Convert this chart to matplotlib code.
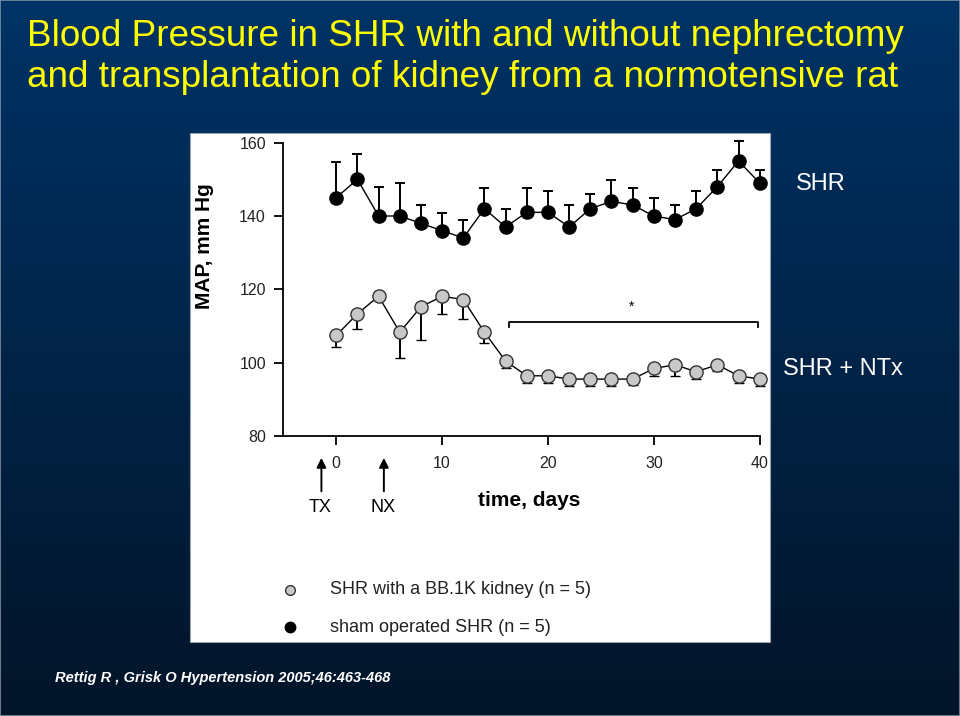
import matplotlib
matplotlib.use("Agg")
import matplotlib.pyplot as plt
import numpy as np
from matplotlib.patches import Rectangle

plt.rcParams["font.family"] = ["Liberation Sans", "DejaVu Sans"]

# days after transplantation
days = [0, 2, 4, 6, 8, 10, 12, 14, 16, 18, 20, 22, 24, 26, 28, 30, 32, 34, 36, 38, 40]

# sham operated SHR (black), mean MAP and upper SEM
sham_map = [145, 150, 140, 140, 138, 136, 134, 142, 137, 141, 141,
            137, 142, 144, 143, 140, 139, 142, 148, 155, 149]
sham_sem = [9.8, 6.8, 7.8, 8.9, 4.9, 4.8, 5.0, 5.7, 4.8, 6.7, 5.7,
            5.9, 4.0, 5.9, 4.7, 5.0, 3.9, 4.7, 4.6, 5.6, 3.6]

# SHR with a BB.1K kidney (grey), mean MAP and lower SEM
ntx_map = [107.4, 113.3, 118.1, 108.3, 115.2, 118.1, 117.2, 108.3, 100.4, 96.4, 96.4,
           95.5, 95.5, 95.5, 95.5, 98.4, 99.4, 97.5, 99.4, 96.4, 95.5]
ntx_sem = [3.1, 4.1, 0.5, 7.0, 9.0, 4.9, 5.2, 2.9, 1.9, 2.0, 2.0,
           2.0, 2.0, 2.0, 1.5, 2.0, 3.0, 2.0, 1.8, 2.0, 2.0]

xticks = [0, 10, 20, 30, 40]
yticks = [80, 100, 120, 140, 160]
sig_span = [16.3, 39.8]
events = [("TX", -1.4), ("NX", 4.5)]

W, H = 960, 716
fig = plt.figure(figsize=(W / 100, H / 100), dpi=100)


def fx(px):
    return px / W


def fy(py):
    return 1 - py / H


# slide background: navy gradient
bg = fig.add_axes([0, 0, 1, 1], zorder=-10)
top = np.array([0.0, 0.20, 0.40])
bot = np.array([0.01, 0.08, 0.16])
t = np.linspace(0, 1, 256)[:, None]
grad = (top[None, :] * (1 - t) + bot[None, :] * t)[:, None, :]
bg.imshow(grad, aspect="auto", extent=[0, 1, 0, 1])
bg.set_axis_off()
bg.add_patch(Rectangle((0, 0), 1, 1, transform=bg.transAxes, fill=False,
                       edgecolor="#7f8fa0", lw=1.2))

# white figure panel
fig.patches.append(Rectangle((fx(190), fy(642)), fx(770) - fx(190), fy(133) - fy(642),
                             transform=fig.transFigure, facecolor="white",
                             edgecolor="#9aa4b0", lw=0.8, zorder=-5))

# title
fig.text(fx(27), fy(46), "Blood Pressure in SHR with and without nephrectomy",
         color="#ffff00", fontsize=26.6, va="baseline", ha="left")
fig.text(fx(27), fy(87), "and transplantation of kidney from a normotensive rat",
         color="#ffff00", fontsize=26.6, va="baseline", ha="left")

ax = fig.add_axes([fx(283.3), fy(435.9), fx(759.7) - fx(283.3), fy(142.7) - fy(435.9)])
ax.patch.set_alpha(0)
ax.set_xlim(-5, 40)
ax.set_ylim(80, 160)
for s in ("top", "right"):
    ax.spines[s].set_visible(False)
for s in ("left", "bottom"):
    ax.spines[s].set_linewidth(1.3)

ax.errorbar(days, sham_map, yerr=[np.zeros(len(sham_sem)), sham_sem], fmt="-o",
            color="black", ms=9.5, lw=1.0, elinewidth=1.4, capsize=3.5, capthick=1.4,
            clip_on=False, zorder=3)
ax.errorbar(days, ntx_map, yerr=[ntx_sem, np.zeros(len(ntx_sem))], fmt="-o",
            color="black", mfc="#c8c8c8", mec="#333333", mew=1.0, ms=9.5, lw=1.0,
            elinewidth=1.4, capsize=3.5, capthick=1.4, clip_on=False, zorder=3)

# significance bracket
ax.plot([sig_span[0], sig_span[0], sig_span[1], sig_span[1]],
        [109.8, 111.2, 111.2, 109.8], color="black", lw=1.3)
ax.text(np.mean(sig_span) - 0.2, 115.2, "*", ha="center", va="center", fontsize=10)

ax.set_xticks(xticks)
ax.set_yticks(yticks)
ax.tick_params(axis="both", direction="out", length=6.5, width=1.3,
               labelsize=11.5, colors="black", labelcolor="#222222")
ax.tick_params(axis="x", pad=8)
ax.tick_params(axis="y", pad=6)

fig.text(fx(205), fy(246), "MAP, mm Hg", fontsize=15, fontweight="bold",
         rotation=90, ha="center", va="center")
fig.text(fx(529), fy(501), "time, days", fontsize=15, fontweight="bold",
         ha="center", va="center")

# surgery markers
for lab, d in events:
    ax.annotate("", xy=(d, 74.0), xytext=(d, 64.9),
                arrowprops=dict(arrowstyle="-|>", color="black", lw=1.4,
                                mutation_scale=14, shrinkA=0, shrinkB=0),
                annotation_clip=False)
    ax.text(d - 0.1, 60.5, lab, ha="center", va="center", fontsize=13,
            clip_on=False)

# legend
fig.lines.append(plt.Line2D([fx(290)], [fy(590)], marker="o", ms=7, mfc="#c8c8c8",
                            mec="#333333", mew=1.0, ls="none", transform=fig.transFigure))
fig.lines.append(plt.Line2D([fx(290)], [fy(627)], marker="o", ms=7.5, color="black",
                            ls="none", transform=fig.transFigure))
fig.text(fx(330), fy(590), "SHR with a BB.1K kidney (n = 5)", fontsize=13,
         color="#222222", va="center", ha="left")
fig.text(fx(330), fy(628), "sham operated SHR (n = 5)", fontsize=13,
         color="#222222", va="center", ha="left")

# side labels
fig.text(fx(796), fy(184), "SHR", fontsize=17, color="white", va="center", ha="left")
fig.text(fx(783), fy(369), "SHR + NTx", fontsize=17, color="white", va="center", ha="left")

# citation
fig.text(fx(55), fy(678), "Rettig R , Grisk O Hypertension 2005;46:463-468",
         fontsize=10.5, color="white", fontweight="bold", fontstyle="italic",
         va="center", ha="left")

fig.savefig("out.png", dpi=100)
